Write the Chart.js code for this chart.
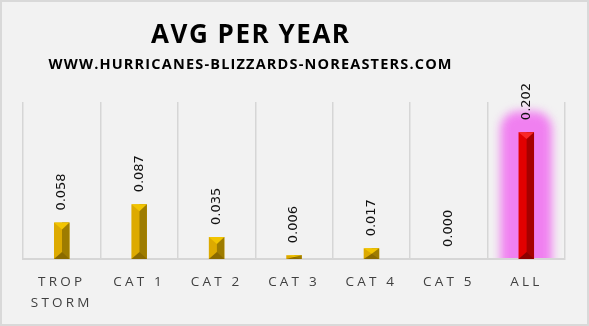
<!DOCTYPE html>
<html><head><meta charset="utf-8">
<script src="https://cdn.jsdelivr.net/npm/chart.js@4/dist/chart.umd.min.js"></script>
<style>html,body{margin:0;padding:0;background:#F2F2F2;overflow:hidden}#wrap{width:589px;height:326px;position:relative}</style>
</head><body><div id="wrap"><canvas id="c" width="589" height="326"></canvas></div>
<script>
const categories = [['TROP', 'STORM'], 'CAT 1', 'CAT 2', 'CAT 3', 'CAT 4', 'CAT 5', 'ALL'];
const avgPerYear = [0.058, 0.087, 0.035, 0.006, 0.017, 0.000, 0.202];
const titleText = 'AVG PER YEAR';
const subtitleText = 'WWW.HURRICANES-BLIZZARDS-NOREASTERS.COM';
const yMin = 0;
const yMax = 0.25;

const gold = {left: '#DDAA00', right: '#9E7C00', top: '#F2C400', bottom: '#8A6A00'};
const red = {left: '#E20000', right: '#A60000', top: '#F82828', bottom: '#8C0000'};
const isAll = categories.map(c => c === 'ALL');
const faces = isAll.map(a => a ? red : gold);

const bgPlugin = {
  id: 'bg',
  beforeDraw(chart) {
    const ctx = chart.ctx, W = chart.width, H = chart.height, ca = chart.chartArea;
    ctx.save();
    ctx.fillStyle = '#F2F2F2';
    ctx.fillRect(0, 0, W, H);
    ctx.strokeStyle = '#D9D9D9';
    ctx.lineWidth = 2;
    ctx.strokeRect(1, 1, W - 2, H - 2);
    // glow behind the highlighted bar
    const meta = chart.getDatasetMeta(0);
    meta.data.forEach((bar, i) => {
      if (!isAll[i]) return;
      const p = bar.getProps(['x', 'y', 'base', 'width'], true);
      ctx.save();
      ctx.beginPath();
      ctx.rect(ca.left, ca.top - 40, ca.right - ca.left, ca.bottom - ca.top + 40);
      ctx.clip();
      ctx.filter = 'blur(5px)';
      ctx.fillStyle = 'rgb(240,128,240)';
      ctx.beginPath();
      ctx.roundRect(p.x - p.width / 2 - 18, p.y - 21, p.width + 36, p.base - p.y + 60, 18);
      ctx.fill();
      ctx.restore();
    });
    ctx.restore();
    ctx.letterSpacing = '3.2px';
  },
  afterDatasetsDraw(chart) {
    const ctx = chart.ctx;
    const meta = chart.getDatasetMeta(0);
    ctx.save();
    ctx.letterSpacing = '0px';
    meta.data.forEach((bar, i) => {
      const p = bar.getProps(['x', 'y', 'base', 'width'], true);
      const h = p.base - p.y;
      const c = faces[i];
      if (h > 0.5) {
        const l = p.x - p.width / 2, r = p.x + p.width / 2;
        const split = l + p.width * 0.52;
        ctx.fillStyle = c.right;
        ctx.fillRect(split, p.y, r - split, h);
        const tri = Math.min(p.width * 0.45, h / 2);
        ctx.fillStyle = c.top;
        ctx.beginPath(); ctx.moveTo(l, p.y); ctx.lineTo(r, p.y); ctx.lineTo(split, p.y + tri); ctx.closePath(); ctx.fill();
        ctx.fillStyle = c.bottom;
        ctx.beginPath(); ctx.moveTo(l, p.base); ctx.lineTo(r, p.base); ctx.lineTo(split, p.base - tri); ctx.closePath(); ctx.fill();
      }
      // value label, rotated
      ctx.save();
      ctx.translate(p.x, p.y - 12);
      ctx.rotate(-Math.PI / 2);
      ctx.font = '13px "DejaVu Sans"';
      ctx.fillStyle = '#111';
      ctx.textAlign = 'left';
      ctx.textBaseline = 'middle';
      ctx.fillText(avgPerYear[i].toFixed(3), 0, 0);
      ctx.restore();
    });
    ctx.restore();
  },
  afterDraw(chart) {
    const ctx = chart.ctx, W = chart.width;
    const cx = W * 0.4245;
    ctx.save();
    ctx.fillStyle = '#000';
    ctx.textAlign = 'left';
    ctx.textBaseline = 'alphabetic';
    const drawSpaced = (text, font, targetW, y) => {
      ctx.font = font;
      ctx.letterSpacing = '0px';
      const w0 = ctx.measureText(text).width;
      const ls = (targetW - w0) / (text.length - 1);
      ctx.letterSpacing = ls + 'px';
      ctx.fillText(text, cx - targetW / 2, y);
    };
    drawSpaced(titleText, 'bold 26px "Open Sans"', 198, 43);
    drawSpaced(subtitleText, 'bold 14.5px "Open Sans"', 403, 69);
    ctx.restore();
  }
};

new Chart(document.getElementById('c'), {
  type: 'bar',
  data: {
    labels: categories,
    datasets: [{
      data: avgPerYear,
      backgroundColor: faces.map(f => f.left),
      borderWidth: 0,
      barPercentage: 0.2,
      categoryPercentage: 1.0
    }]
  },
  options: {
    responsive: false,
    animation: false,
    devicePixelRatio: 1,
    layout: {padding: {left: 23, right: 24, top: 102, bottom: 0}},
    plugins: {legend: {display: false}, tooltip: {enabled: false}, title: {display: false}},
    scales: {
      x: {
        grid: {display: true, offset: true, color: '#D6D6D6', lineWidth: 1.5, drawTicks: false},
        border: {display: true, color: '#D6D6D6', width: 2},
        ticks: {
          color: '#404040',
          font: {family: '"Open Sans"', size: 13.5, lineHeight: 21 / 13.5},
          padding: 13,
          maxRotation: 0,
          autoSkip: false
        },
        afterFit(scale) { scale.height = 67; }
      },
      y: {
        display: false,
        min: yMin,
        max: yMax,
        grid: {display: false}
      }
    }
  },
  plugins: [bgPlugin]
});
</script>
</body></html>
